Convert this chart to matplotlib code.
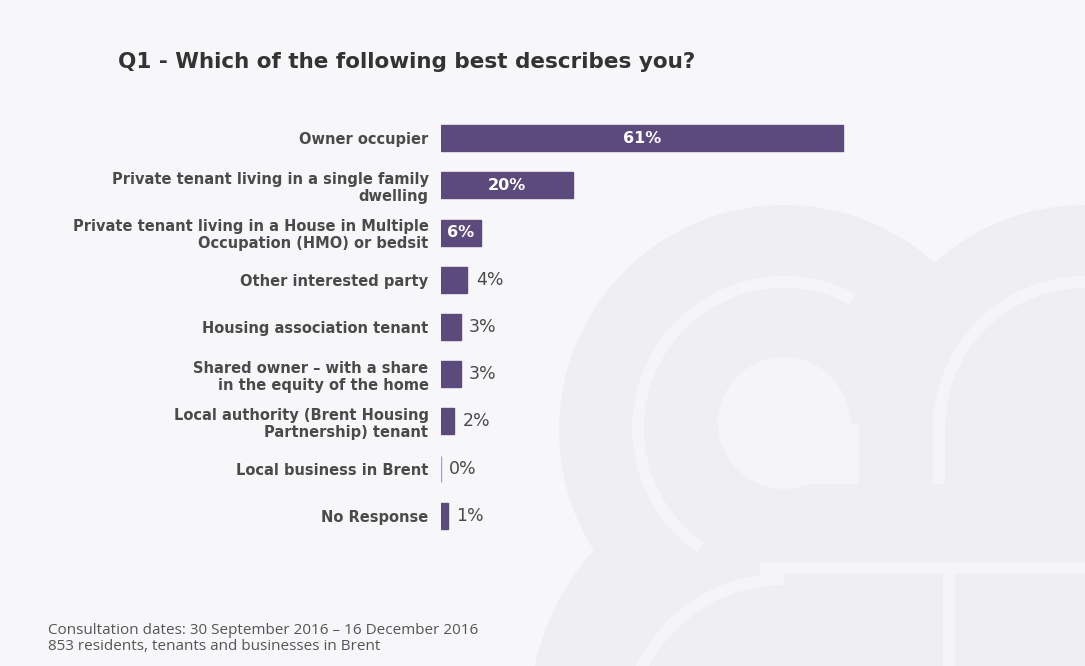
import matplotlib.pyplot as plt
from matplotlib.patches import Circle, Rectangle, Wedge

categories = [
    "Owner occupier",
    "Private tenant living in a single family\ndwelling",
    "Private tenant living in a House in Multiple\nOccupation (HMO) or bedsit",
    "Other interested party",
    "Housing association tenant",
    "Shared owner \u2013 with a share\nin the equity of the home",
    "Local authority (Brent Housing\nPartnership) tenant",
    "Local business in Brent",
    "No Response",
]
shares = [61, 20, 6, 4, 3, 3, 2, 0, 1]

title = "Q1 - Which of the following best describes you?"
footer = ["Consultation dates: 30 September 2016 \u2013 16 December 2016",
          "853 residents, tenants and businesses in Brent"]

BAR = "#5d4a7d"
BG = "#f7f7fa"
MARK = "#efeef3"
STROKE = "#f5f4f8"

W, H = 1085, 666
fig = plt.figure(figsize=(W / 100, H / 100), dpi=100, facecolor=BG)


def px(x, y):
    # pixel coords measured from the top-left corner -> display coords
    return x, H - y


# faint logo in the background, lower right
def blob(patch):
    patch.set_transform(None)
    patch.set_zorder(0)
    fig.add_artist(patch)


blob(Circle(px(784, 430), 225, color=MARK, lw=0))
blob(Circle(px(1085, 430), 225, color=MARK, lw=0))
blob(Circle(px(784, 720), 255, color=MARK, lw=0))
blob(Rectangle(px(784, 666), 301, 200, color=MARK, lw=0))
blob(Wedge(px(784, 428), 152, 90, 235, width=12, color=STROKE, lw=0))
blob(Wedge(px(784, 428), 152, 62, 90, width=12, color=STROKE, lw=0))
blob(Wedge(px(1085, 428), 152, 90, 180, width=12, color=STROKE, lw=0))
blob(Rectangle(px(933, 484), 12, 60, color=STROKE, lw=0))
blob(Circle(px(784, 423), 66, color=STROKE, lw=0))
blob(Rectangle(px(784, 484), 74, 60, color=STROKE, lw=0))
blob(Rectangle(px(760, 574), 325, 12, color=STROKE, lw=0))
blob(Rectangle(px(943, 666), 12, 92, color=STROKE, lw=0))
blob(Wedge(px(784, 738), 165, 90, 180, width=12, color=STROKE, lw=0))

ax = fig.add_axes([441 / W, 1 - 539.6 / H, 593 / W, 425.2 / H])
ax.set_facecolor("none")

y = list(range(len(categories)))
edges = [BAR if v > 0 else "#a89cc0" for v in shares]
ax.barh(y, shares, height=0.55, color=BAR, edgecolor=edges, linewidth=1.0)
ax.set_xlim(0, 90)
ax.set_ylim(len(categories) - 0.5, -0.5)

ax.set_yticks(y)
ax.set_yticklabels(categories, fontsize=10.5, fontweight="bold", color="#4a4a4a",
                   linespacing=1.2)
ax.tick_params(axis="y", length=0, pad=9)
ax.set_xticks([])
for s in ax.spines.values():
    s.set_visible(False)

for yi, v in zip(y, shares):
    label = f"{v}%"
    if v >= 6:
        ax.text(v / 2, yi, label, ha="center", va="center", color="white",
                fontsize=11.5, fontweight="bold")
    else:
        ax.annotate(label, (v, yi), xytext=(6, 0), textcoords="offset points",
                    ha="left", va="center", color="#4a4a4a", fontsize=12.5)

fig.text(118 / W, 1 - 62 / H, title, ha="left", va="center",
         fontsize=15.5, fontweight="bold", color="#333333")
fig.text(48 / W, 1 - 630 / H, footer[0], ha="left", va="center",
         fontsize=11, color="#555555", family="Open Sans")
fig.text(48 / W, 1 - 647 / H, footer[1], ha="left", va="center",
         fontsize=11, color="#555555", family="Open Sans")

fig.savefig("out.png", dpi=100, facecolor=BG)
